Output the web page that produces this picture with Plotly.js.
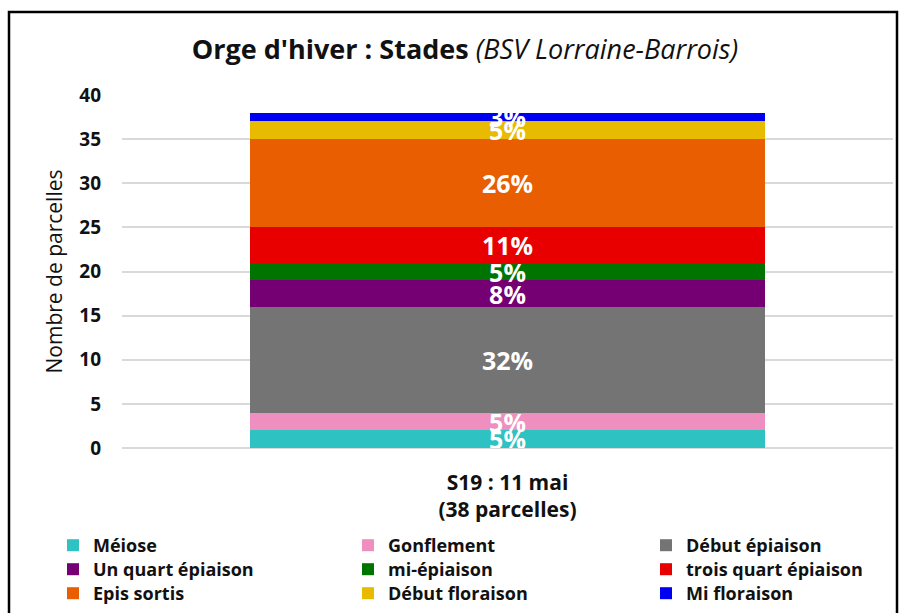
<!DOCTYPE html>
<html>
<head>
<meta charset="utf-8">
<script src="https://cdn.plot.ly/plotly-3.0.1.min.js"></script>
<style>
  html, body { margin: 0; padding: 0; background: #fff; }
  #chart { width: 902px; height: 613px; }
</style>
</head>
<body>
<div id="chart"></div>
<script>
const category = ['S19 : 11 mai<br>(38 parcelles)'];
const stages = ['Méiose', 'Gonflement', 'Début épiaison', 'Un quart épiaison', 'mi-épiaison',
                'trois quart épiaison', 'Epis sortis', 'Début floraison', 'Mi floraison'];
const counts = [2, 2, 12, 3, 2, 4, 10, 2, 1];
const colors = ['#2EC2C2', '#EE8FC0', '#747474', '#740074', '#007400',
                '#E80000', '#E85E00', '#E8BA00', '#0000F0'];
const yTicks = [0, 5, 10, 15, 20, 25, 30, 35, 40];

const total = counts.reduce((a, b) => a + b, 0);
const FONT = '"Open Sans", "DejaVu Sans", sans-serif';

// plot-area geometry (pixels)
const PL = 122, PW = 771, PT = 95, PH = 353;
const colTextLeft = [93, 388, 686];
const rowCenter = [545, 569, 593];

const legendKey = i => (i === 0 ? 'legend' : 'legend' + (i + 1));

const traces = stages.map((name, i) => ({
  type: 'bar',
  name: name,
  x: category,
  y: [counts[i]],
  text: [Math.round(counts[i] / total * 100) + '%'],
  textposition: 'inside',
  insidetextanchor: 'middle',
  textangle: 0,
  insidetextfont: { family: FONT, size: 25, color: '#ffffff', weight: 'bold' },
  marker: { color: colors[i], line: { width: 0 } },
  legend: legendKey(i),
  hoverinfo: 'name+y'
}));

const layout = {
  width: 902, height: 613,
  margin: { l: PL, r: 902 - PL - PW, t: PT, b: 613 - PT - PH, autoexpand: false },
  paper_bgcolor: '#ffffff',
  plot_bgcolor: '#ffffff',
  barmode: 'stack',
  bargap: 0.333,
  showlegend: true,
  uniformtext: { mode: 'show', minsize: 25 },
  font: { family: FONT, color: '#111111' },
  title: {
    text: "<b>Orge d'hiver : Stades</b> <i>(BSV Lorraine-Barrois)</i>",
    font: { family: FONT, size: 27, color: '#111111' },
    x: 465 / 902, xref: 'container', xanchor: 'center',
    y: 1 - 50 / 613, yref: 'container', yanchor: 'middle'
  },
  xaxis: {
    type: 'category',
    showgrid: false,
    zeroline: false,
    showline: false,
    ticks: '',
    tickfont: { family: FONT, size: 21, color: '#111111', weight: 'bold' },
    ticklabelstandoff: 20,
    automargin: false,
    fixedrange: true
  },
  yaxis: {
    range: [0, 40],
    tickvals: yTicks,
    ticktext: yTicks.map(String),
    showgrid: true,
    gridcolor: '#d9d9d9',
    gridwidth: 2,
    zeroline: true,
    zerolinecolor: '#d9d9d9',
    zerolinewidth: 2,
    showline: false,
    ticks: '',
    ticklabelstandoff: 20,
    automargin: false,
    tickfont: { family: FONT, size: 19, color: '#111111', weight: 'bold' },
    title: { text: 'Nombre de parcelles', font: { family: FONT, size: 21, color: '#111111' }, standoff: 10 },
    fixedrange: true
  },
  shapes: [{
    type: 'rect', xref: 'paper', yref: 'paper',
    x0: (9 - PL) / PW, x1: (897 - PL) / PW,
    y0: -1.2, y1: (PT + PH - 12) / PH,
    line: { color: '#000000', width: 2.5 },
    fillcolor: 'rgba(0,0,0,0)',
    layer: 'below'
  }]
};

stages.forEach((name, i) => {
  const col = i % 3, row = Math.floor(i / 3);
  layout[legendKey(i)] = {
    orientation: 'v',
    xref: 'paper', yref: 'paper',
    x: (colTextLeft[col] - 40 - PL) / PW, xanchor: 'left',
    y: (PT + PH - (rowCenter[row] - 18)) / PH, yanchor: 'top',
    font: { family: FONT, size: 18, color: '#111111', weight: 'bold' },
    bgcolor: 'rgba(0,0,0,0)',
    itemclick: false, itemdoubleclick: false
  };
});

Plotly.newPlot('chart', traces, layout, { displayModeBar: false, staticPlot: true });
</script>
</body>
</html>
